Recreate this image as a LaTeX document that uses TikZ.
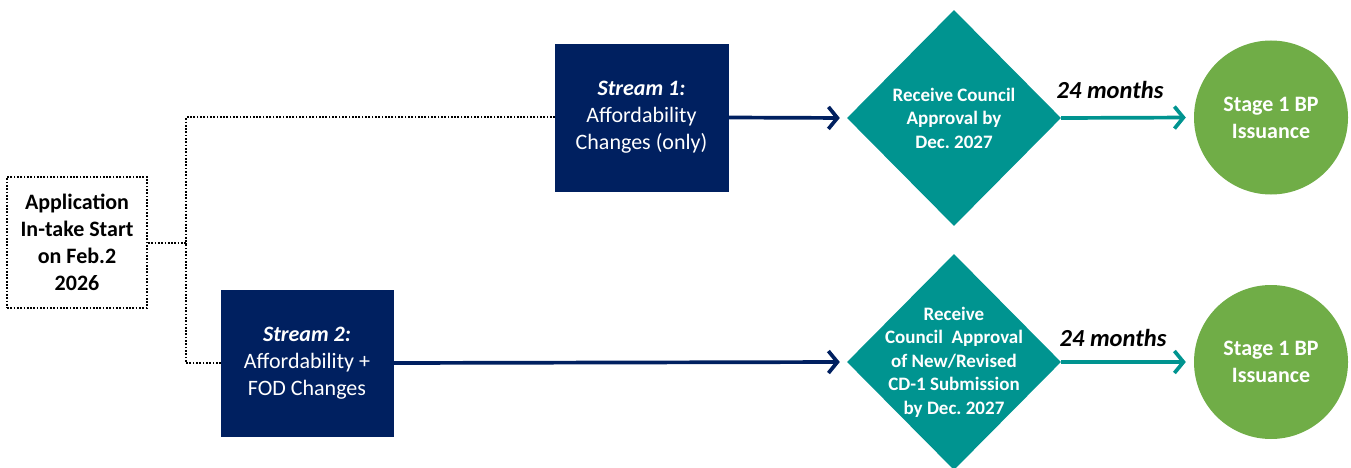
\documentclass[tikz,border=0pt]{standalone}
\usepackage{fontspec}
\setmainfont{Carlito}
\usetikzlibrary{shapes.geometric,arrows.meta}
\frenchspacing
\definecolor{navy}{HTML}{002060}
\definecolor{tealc}{HTML}{009490}
\definecolor{grn}{HTML}{70AD47}
\tikzset{
  bigfont/.style={font=\fontsize{22}{27}\selectfont},
  appbox/.style={draw=black, line width=2pt, dash pattern=on 1.7pt off 1.6pt,
    minimum width=140pt, minimum height=131pt, align=center, inner sep=0pt,
    font=\fontsize{22}{27}\selectfont\bfseries},
  streambox/.style={fill=navy, draw=navy, text=white, align=center, inner sep=0pt,
    bigfont},
  diam/.style={diamond, fill=tealc, draw=none, minimum width=214pt, minimum height=216pt, inner sep=0pt},
  diamtext/.style={text=white, align=center, font=\fontsize{19}{23.5}\selectfont\bfseries},
  circ/.style={circle, fill=grn, draw=none, minimum size=154pt, inner sep=0pt, text=white,
    align=center, font=\fontsize{22}{27}\selectfont\bfseries},
  dotline/.style={black, line width=2pt, dash pattern=on 1.7pt off 1.6pt},
  navyarrow/.style={draw=navy, line width=3.7pt, -{Straight Barb[length=9pt,width=22pt]}, shorten >=7pt},
  tealarrow/.style={draw=tealc, line width=3.7pt, -{Straight Barb[length=9pt,width=22pt]}, shorten >=8pt},
  lbl/.style={font=\fontsize{24.5}{29}\selectfont\bfseries\itshape, text=black, inner sep=0pt}
}
\begin{document}
\begin{tikzpicture}[x=1pt,y=-1pt]
\useasboundingbox (0,0) rectangle (1351,468);
\node[appbox] (app) at (77,242.5) {Application\\In-take Start\\on Feb.2\\2026};
\node[streambox, minimum width=173pt, minimum height=147pt] (s1) at (641.5,117.5)
  {\textbf{\textit{Stream 1:}}\\Affordability\\Changes (only)};
\node[streambox, minimum width=172pt, minimum height=146pt] (s2) at (307,363)
  {\textbf{\textit{Stream 2:}}\\Affordability +\\FOD Changes};
\coordinate (j) at (186,242.5);
\draw[dotline] (app.east) -- (j);
\draw[dotline] (s1.west) -| (j);
\draw[dotline] (s2.west) -| (j);

\node[diam] (d1) at (954,118) {};
\node[diamtext] (d1t) at (d1.center) {Receive Council\\Approval by\\Dec. 2027};
\node[diam] (d2) at (954,362) {};
\node[diamtext] (d2t) at (d2.center) {Receive\\Council\ \ Approval\\of New/Revised\\CD-1 Submission\\by Dec. 2027};

\node[circ] (c1) at (1271,117.5) {Stage 1 BP\\Issuance};
\node[circ] (c2) at (1271,362) {Stage 1 BP\\Issuance};

\draw[navyarrow] (s1.east) -- (d1.west);
\draw[navyarrow] (s2.east) -- (d2.west);
\draw[tealarrow] (d1.east) -- (c1.west);
\draw[tealarrow] (d2.east) -- (c2.west);

\node[lbl] (l1) at (1110,90) {24 months};
\node[lbl] (l2) at (1113,338) {24 months};
\end{tikzpicture}
\end{document}
